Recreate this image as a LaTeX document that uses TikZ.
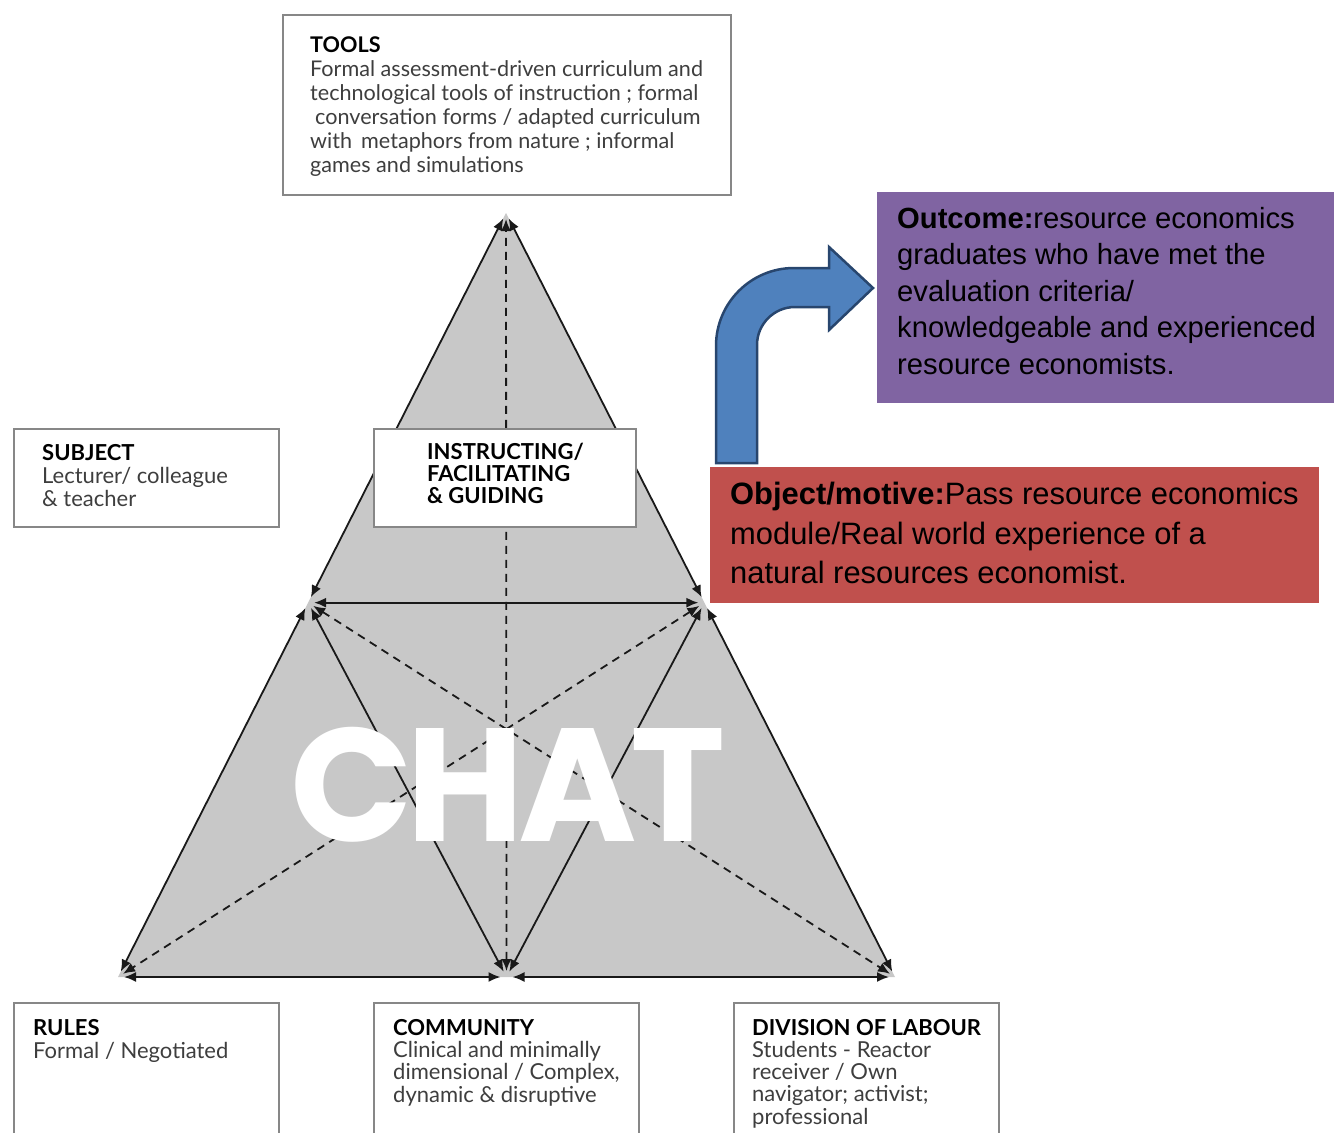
\documentclass[tikz,border=0pt]{standalone}
\usepackage{fontspec}
\setmainfont{Lato}
\newfontfamily\slidefont{Liberation Sans}
\newfontfamily\chatfont{Poppins}[LetterSpace=-4]
\usetikzlibrary{calc}
\usetikzlibrary{arrows.meta}
\usepackage{xcolor}

\definecolor{trigrey}{RGB}{200,200,200}
\definecolor{boxgrey}{RGB}{135,135,135}
\definecolor{bodygrey}{RGB}{62,62,62}
\definecolor{linegrey}{RGB}{25,25,25}
\definecolor{outpurple}{RGB}{128,100,162}
\definecolor{objred}{RGB}{192,80,77}
\definecolor{arrowblue}{RGB}{79,129,189}
\definecolor{arrowedge}{RGB}{40,70,110}

% text nodes are placed by the baseline of their last line
\tikzset{
  greybox/.style={draw=boxgrey, line width=1.5pt, fill=white, anchor=north west, inner sep=0pt},
  boxtext/.style={anchor=base west, align=left, inner sep=0pt, text=bodygrey},
  solidlink/.style={<->, line width=1.8pt, draw=linegrey, shorten <=6pt, shorten >=6pt},
  dashlink/.style={solidlink, dash pattern=on 8pt off 6pt},
  slidetext/.style={anchor=base west, align=left, inner sep=0pt, text=black},
}

\begin{document}
\begin{tikzpicture}[x=1pt, y=-1pt, >={Latex[length=12pt,width=10pt]}]
      \useasboundingbox (0,0) rectangle (1334,1133);
      \clip (0,0) rectangle (1334,1133);

      % triangle corners
      \coordinate (apex) at (506,213);
      \coordinate (bl) at (118,977);
      \coordinate (br) at (895,977);
      \coordinate (lmid) at ($(apex)!0.51!(bl)$);
      \coordinate (rmid) at ($(apex)!0.51!(br)$);
      \coordinate (bmid) at ($(bl)!0.5!(br)$);

      \fill [trigrey] (apex) -- (bl) -- (br) -- cycle;

      \foreach \a/\b in {apex/lmid, lmid/bl, apex/rmid, rmid/br, bl/bmid, bmid/br,
                         lmid/rmid, lmid/bmid, rmid/bmid}
        \draw [solidlink] (\a) -- (\b);
      \foreach \a/\b in {bmid/apex, lmid/br, rmid/bl}
        \draw [dashlink] (\a) -- (\b);

      \node [font=\chatfont\bfseries\fontsize{161}{161}\selectfont, text=white,
      inner sep=0pt] (chat) at (508,785) {CHAT};

      % boxes round the triangle
      \node [greybox, minimum width=448, minimum height=180] (tools) at (282,14) {};
      \node [boxtext, font=\fontsize{21.6}{24}\selectfont] (toolstext) at
      ($(tools.north west) + (28,158.7)$)
      {\textcolor{black}{\bfseries TOOLS}\\
       Formal assessment-driven curriculum and\\
       technological tools of instruction ; formal\\
       \hspace{5pt}conversation forms / adapted curriculum\\
       with\hspace{9pt}metaphors from nature ; informal\\
       games and simulations};

      \node [greybox, minimum width=265, minimum height=98] (subject) at (13,428) {};
      \node [boxtext, font=\fontsize{22}{23}\selectfont] (subjecttext) at
      ($(subject.north west) + (29,78)$)
      {\textcolor{black}{\bfseries SUBJECT}\\
       Lecturer/ colleague\\
       \& teacher};

      \node [greybox, minimum width=262, minimum height=98] (instr) at (373,428) {};
      \node [boxtext, text=black, font=\bfseries\fontsize{22}{22}\selectfont] (instrtext) at
      ($(instr.north west) + (54,75)$)
      {INSTRUCTING/\\
       FACILITATING\\
       \& GUIDING};

      \node [greybox, minimum width=265, minimum height=200] (rules) at (13,1002) {};
      \node [boxtext, font=\fontsize{22}{23}\selectfont] (rulestext) at
      ($(rules.north west) + (20,56)$)
      {\textcolor{black}{\bfseries RULES}\\
       Formal / Negotiated};

      \node [greybox, minimum width=265, minimum height=200] (community) at (373,1002) {};
      \node [boxtext, font=\fontsize{22}{22.4}\selectfont] (communitytext) at
      ($(community.north west) + (20,100.2)$)
      {\textcolor{black}{\bfseries COMMUNITY}\\
       Clinical and minimally\\
       dimensional / Complex,\\
       dynamic \& disruptive};

      \node [greybox, minimum width=265, minimum height=200] (labour) at (733,1002) {};
      \node [boxtext, font=\fontsize{22}{22.3}\selectfont] (labourtext) at
      ($(labour.north west) + (19,122.2)$)
      {\textcolor{black}{\bfseries DIVISION OF LABOUR}\\
       Students - Reactor\\
       receiver / Own\\
       navigator; activist;\\
       professional};

      % outcome and object
      \node [fill=outpurple, anchor=north west, inner sep=0pt, minimum width=457,
      minimum height=211] (outcome) at (877,192) {};
      \node [slidetext, font=\slidefont\fontsize{29.2}{36.5}\selectfont] (outcometext) at
      ($(outcome.north west) + (20,182.3)$)
      {\textbf{Outcome:}resource economics\\
       graduates who have met the\\
       evaluation criteria/\\
       knowledgeable and experienced\\
       resource economists.};

      \node [fill=objred, anchor=north west, inner sep=0pt, minimum width=609,
      minimum height=136] (object) at (710,467) {};
      \node [slidetext, font=\slidefont\fontsize{30.9}{39.2}\selectfont] (objecttext) at
      ($(object.north west) + (20,116.3)$)
      {\textbf{Object/motive:}Pass resource economics\\
       module/Real world experience of a\\
       natural resources economist.};

      % bent arrow from object to outcome
      \draw [fill=arrowblue, draw=arrowedge, line width=2.5pt, line join=miter]
      (716,463) -- (716,346) arc [start angle=180, end angle=270, radius=78]
      -- (829,268) -- (829,247) -- (873,288) -- (829,330) -- (829,307) -- (795,307)
      arc [start angle=270, end angle=180, radius=38] -- (757,463) -- cycle;
\end{tikzpicture}
\end{document}
